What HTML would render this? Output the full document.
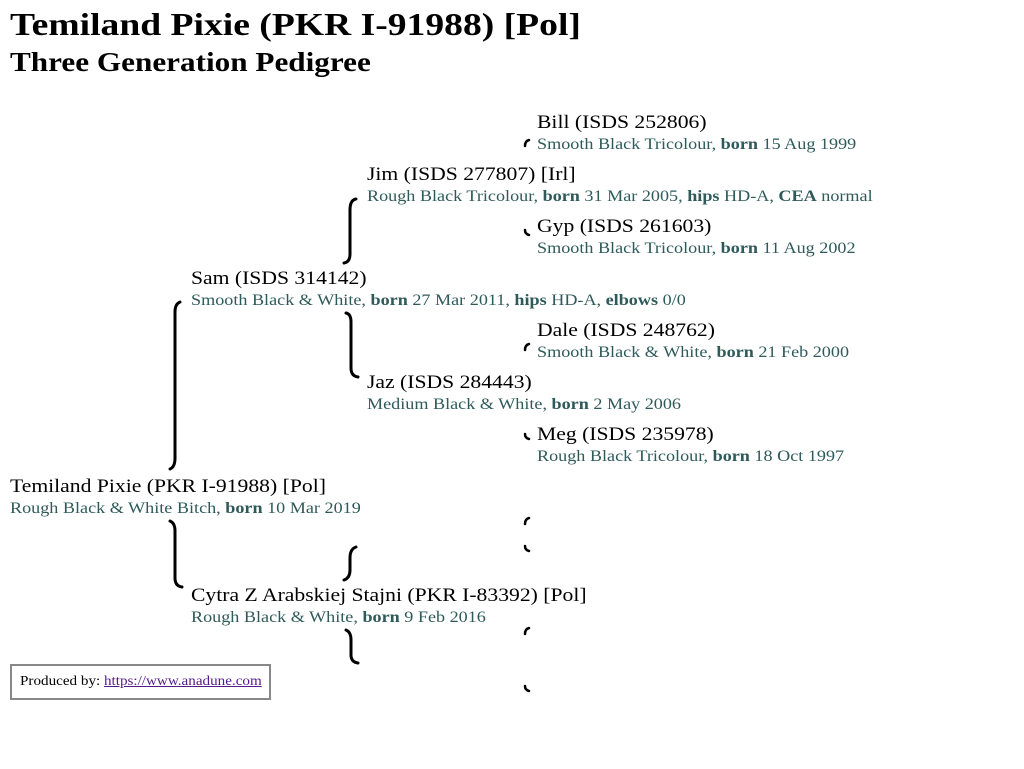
<!DOCTYPE html>
<html><head><meta charset="utf-8"><style>
body{margin:0;width:1024px;height:769px;background:#fff;font-family:"Liberation Serif",serif;position:relative;overflow:hidden}
.n,.d,h1,h2{transform-origin:0 0}
.n{position:absolute;font-size:18.5px;line-height:20px;color:#000;white-space:nowrap;transform:scaleX(1.17)}
.d{position:absolute;font-size:15.5px;line-height:18px;color:#2f5a5a;white-space:nowrap;transform:scaleX(1.17)}
.d b{color:#2f5a5a}
h1{position:absolute;left:10px;top:4px;margin:0;font-size:32px;line-height:40px;white-space:nowrap;transform:scaleX(1.175)}
h2{position:absolute;left:10px;top:47px;margin:0;font-size:27px;line-height:30px;white-space:nowrap;transform:scaleX(1.155)}
svg{position:absolute;left:0;top:0}
.box{position:absolute;left:10px;top:664px;border:2px solid #888;box-sizing:border-box;width:261px;height:36px;font-size:14px;line-height:32px;padding-left:8px;white-space:nowrap}
.box span{display:inline-block;transform:scaleX(1.08);transform-origin:0 0}
.box a{color:#551a8b;text-decoration:underline}
</style></head><body>
<h1>Temiland Pixie (PKR I-91988) [Pol]</h1>
<h2>Three Generation Pedigree</h2>

<div class="n" style="left:537px;top:113px">Bill (ISDS 252806)</div>
<div class="d" style="left:537px;top:136px">Smooth Black Tricolour, <b>born</b> 15 Aug 1999</div>
<div class="n" style="left:367px;top:165px">Jim (ISDS 277807) [Irl]</div>
<div class="d" style="left:367px;top:188px">Rough Black Tricolour, <b>born</b> 31 Mar 2005, <b>hips</b> HD-A, <b>CEA</b> normal</div>
<div class="n" style="left:537px;top:217px">Gyp (ISDS 261603)</div>
<div class="d" style="left:537px;top:240px">Smooth Black Tricolour, <b>born</b> 11 Aug 2002</div>
<div class="n" style="left:191px;top:269px">Sam (ISDS 314142)</div>
<div class="d" style="left:191px;top:292px">Smooth Black &amp; White, <b>born</b> 27 Mar 2011, <b>hips</b> HD-A, <b>elbows</b> 0/0</div>
<div class="n" style="left:537px;top:321px">Dale (ISDS 248762)</div>
<div class="d" style="left:537px;top:344px">Smooth Black &amp; White, <b>born</b> 21 Feb 2000</div>
<div class="n" style="left:367px;top:373px">Jaz (ISDS 284443)</div>
<div class="d" style="left:367px;top:396px">Medium Black &amp; White, <b>born</b> 2 May 2006</div>
<div class="n" style="left:537px;top:425px">Meg (ISDS 235978)</div>
<div class="d" style="left:537px;top:448px">Rough Black Tricolour, <b>born</b> 18 Oct 1997</div>
<div class="n" style="left:10px;top:477px">Temiland Pixie (PKR I-91988) [Pol]</div>
<div class="d" style="left:10px;top:500px">Rough Black &amp; White Bitch, <b>born</b> 10 Mar 2019</div>
<div class="n" style="left:191px;top:586px">Cytra Z Arabskiej Stajni (PKR I-83392) [Pol]</div>
<div class="d" style="left:191px;top:609px">Rough Black &amp; White, <b>born</b> 9 Feb 2016</div>

<svg width="1024" height="769" fill="none" stroke="#000" stroke-width="3" stroke-linecap="round">
<path d="M356 199 Q350 200 350 210 L350 254 Q350 262 344 263"/>
<path d="M346 313 Q351 314 351 322 L351 368 Q351 376 358 377"/>
<path d="M180 302 Q175 304 175 312 L175 458 Q175 467 170 469"/>
<path d="M170 521 Q175 523 175 531 L175 578 Q175 586 182 587"/>
<path d="M356 547 Q350 549 350 558 L350 570 Q350 578 344 580"/>
<path d="M346 630 Q351 632 351 640 L351 655 Q351 662 358 663"/>
<g stroke-width="2.5">
<path d="M525 146 Q525 141 529 140"/>
<path d="M525 230 Q525 234 529 235"/>
<path d="M525 350 Q525 345 529 344"/>
<path d="M525 434 Q525 438 529 439"/>
<path d="M525 524 Q525 519 529 518"/>
<path d="M525 546 Q525 550 529 551"/>
<path d="M525 634 Q525 629 529 628"/>
<path d="M525 686 Q525 690 529 691"/>
</g>
</svg>

<div class="box"><span>Produced by: <a>https://www.anadune.com</a></span></div>
</body></html>
